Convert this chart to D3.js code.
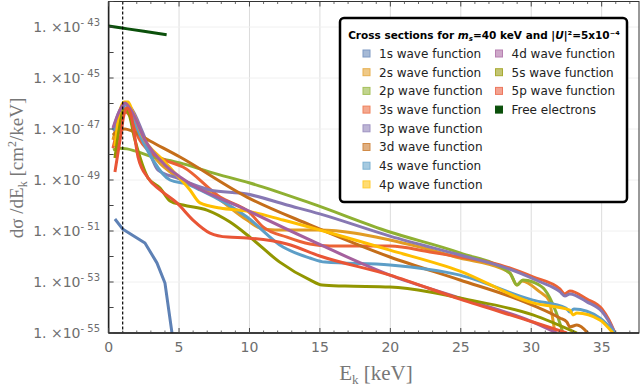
<!DOCTYPE html>
<html>
<head>
<meta charset="utf-8">
<script src="https://cdn.jsdelivr.net/npm/d3@7"></script>
<style>
  body { margin: 0; background: #fff; }
  svg { display: block; }
</style>
</head>
<body>
<svg id="chart" width="640" height="389"></svg>
<script>
// values are [E_k in keV, log10(dσ/dE_k in cm²/keV)]
const wf1s = [[0.45, -50.53], [0.99, -50.92], [2.58, -51.47], [3.43, -52.25], [4.0, -53.04], [4.5, -55.0]];
const wf2s = [[0.31, -47.43], [0.74, -46.57], [1.16, -46.18], [1.59, -46.33], [2.23, -47.24], [3.43, -48.22], [4.85, -48.88], [7.2, -49.51], [9.82, -50.57], [10.74, -50.88], [11.81, -50.96], [14.99, -50.96], [19.97, -51.35], [22.1, -51.63], [24.94, -52.06], [27.78, -52.45], [28.49, -52.65], [28.99, -53.12], [29.34, -52.96], [30.61, -53.39], [31.25, -53.71], [31.54, -54.49], [31.68, -55.0]];
const wf2p = [[0.31, -47.82], [0.81, -47.75], [1.31, -47.78], [1.87, -47.86], [2.94, -48.06], [5.07, -48.33], [7.2, -48.69], [10.03, -49.12], [14.29, -49.9], [19.97, -51.04], [24.94, -51.86], [28.49, -52.65], [28.99, -53.12], [29.41, -52.92], [30.12, -53.0], [30.97, -53.31], [31.33, -53.63], [31.76, -54.18], [32.25, -55.0]];
const wf3s = [[0.31, -47.75], [0.74, -46.84], [1.16, -46.33], [1.52, -46.49], [2.09, -47.31], [2.94, -47.9], [4.0, -48.22], [5.28, -48.49], [7.91, -49.67], [10.03, -50.29], [10.96, -50.84], [12.66, -51.24], [14.29, -51.51], [15.71, -51.59], [19.97, -51.59], [22.8, -51.82], [24.94, -52.02], [27.78, -52.33], [30.12, -52.8], [32.03, -53.27], [32.39, -53.47], [32.74, -53.35], [33.95, -53.67], [35.02, -54.06], [35.52, -54.49], [35.94, -55.0]];
const wf3p = [[0.38, -47.1], [0.74, -46.57], [1.21, -46.06], [1.59, -46.18], [2.44, -47.16], [3.51, -48.61], [4.85, -48.92], [7.19, -49.39], [9.82, -49.55], [12.66, -49.98], [14.99, -50.33], [19.97, -51.2], [24.94, -51.94], [27.78, -52.37], [29.2, -52.65], [30.61, -52.99], [32.03, -53.38], [32.39, -53.55], [32.74, -53.47], [33.95, -53.78], [35.02, -54.16], [35.45, -54.49], [35.94, -55.0]];
const wf3d = [[0.31, -47.24], [0.74, -47.04], [1.16, -47.0], [1.66, -47.08], [2.94, -47.47], [5.07, -48.1], [9.82, -49.67], [14.29, -50.76], [19.97, -52.02], [24.94, -52.92], [29.2, -53.71], [32.03, -54.41], [32.53, -54.57], [32.74, -54.76], [33.24, -54.69], [34.02, -55.0]];
const wf4s = [[0.31, -47.04], [0.74, -46.33], [1.16, -46.02], [1.52, -46.25], [2.23, -47.24], [3.15, -48.22], [4.36, -49.0], [5.56, -49.16], [6.49, -49.39], [9.82, -50.45], [12.38, -51.63], [14.29, -52.06], [15.36, -52.22], [19.97, -52.33], [24.94, -52.73], [30.12, -53.71], [32.46, -54.02], [32.74, -54.18], [33.03, -54.06], [34.87, -54.41], [35.94, -55.0]];
const wf4p = [[0.45, -47.67], [0.74, -46.45], [1.09, -45.94], [1.38, -45.94], [1.66, -46.25], [2.44, -47.31], [3.86, -48.22], [5.78, -49.39], [6.49, -49.9], [7.91, -50.1], [9.82, -50.22], [12.38, -50.57], [14.99, -50.96], [19.97, -51.75], [24.94, -52.57], [30.12, -53.82], [32.74, -54.1], [32.96, -54.29], [33.24, -54.22], [34.87, -54.49], [35.8, -55.0]];
const wf4d = [[0.31, -46.96], [0.74, -46.33], [1.16, -45.98], [1.59, -46.25], [2.58, -47.43], [4.0, -48.41], [5.07, -48.88], [9.82, -50.18], [14.29, -51.35], [19.97, -52.73], [24.94, -53.63], [30.12, -54.57], [31.82, -55.0]];
const wf5s = [[0.45, -48.14], [0.74, -47.04], [1.09, -46.25], [1.38, -46.33], [1.87, -47.43], [2.8, -48.92], [3.65, -49.31], [4.36, -49.82], [5.28, -49.98], [6.98, -50.18], [8.62, -50.65], [10.03, -51.24], [12.15, -52.22], [14.29, -52.92], [15.14, -53.12], [16.78, -53.16], [19.97, -53.2], [22.8, -53.39], [24.94, -53.63], [30.12, -54.29], [33.24, -55.0]];
const wf5p = [[0.45, -48.69], [0.81, -47.43], [1.09, -46.45], [1.31, -46.18], [1.59, -46.45], [2.09, -48.1], [2.8, -48.92], [3.65, -49.39], [4.85, -49.9], [5.99, -50.57], [7.2, -51.08], [8.47, -51.24], [9.82, -51.27], [12.66, -51.51], [14.99, -51.98], [19.97, -52.73], [24.94, -53.67], [30.12, -54.57], [32.53, -55.0]];
const freeElectrons = [[0.0, -42.96], [0.95, -43.04], [2.5, -43.17], [4.12, -43.3]];

const seriesNames = ['1s wave function', '2s wave function', '2p wave function', '3s wave function',
  '3p wave function', '3d wave function', '4s wave function', '4p wave function',
  '4d wave function', '5s wave function', '5p wave function', 'Free electrons'];
const seriesColors = ['#5E81B5', '#E19C24', '#8FB032', '#EB6235', '#8778B3', '#C56E1A',
  '#5D9EC7', '#FFBF00', '#A5609D', '#929600', '#E95536', '#0B500B'];
const seriesData = [wf1s, wf2s, wf2p, wf3s, wf3p, wf3d, wf4s, wf4p, wf4d, wf5s, wf5p, freeElectrons];

const xTicks = [0, 5, 10, 15, 20, 25, 30, 35];
const yExponents = d3.range(-55, -41);          // a tick every decade
const yLabelExponents = [-55, -53, -51, -49, -47, -45, -43];
const thresholdEnergy = 1;                        // dashed line, keV

const svg = d3.select('#chart');
const plot = { left: 108.6, right: 639, top: 1.5, bottom: 333 };

const x = d3.scaleLinear().domain([0, 37.65]).range([plot.left, plot.right]);
const y = d3.scaleLog().domain([1e-55, 1e-42]).range([plot.bottom, plot.top]);

svg.append('defs').append('clipPath').attr('id', 'clip')
  .append('rect')
  .attr('x', plot.left).attr('y', plot.top)
  .attr('width', plot.right - plot.left).attr('height', plot.bottom - plot.top);

// grid
const grid = svg.append('g');
grid.selectAll('.vg').data(xTicks.filter(d => d > 0)).enter().append('line')
  .attr('x1', d => x(d)).attr('x2', d => x(d))
  .attr('y1', plot.top).attr('y2', plot.bottom)
  .attr('stroke', '#dcdcdc').attr('stroke-width', 1);
grid.selectAll('.hg').data(yLabelExponents).enter().append('line')
  .attr('x1', plot.left).attr('x2', plot.right)
  .attr('y1', d => y(Math.pow(10, d))).attr('y2', d => y(Math.pow(10, d)))
  .attr('stroke', '#f0f0f0').attr('stroke-width', 1);

// curves
const smooth = d3.line()
  .x(d => x(d[0]))
  .y(d => y(Math.pow(10, d[1])))
  .curve(d3.curveMonotoneX);
const straight = d3.line()
  .x(d => x(d[0]))
  .y(d => y(Math.pow(10, d[1])));

const curves = svg.append('g').attr('clip-path', 'url(#clip)');
seriesData.forEach((data, i) => {
  curves.append('path')
    .datum(data)
    .attr('fill', 'none')
    .attr('stroke', seriesColors[i])
    .attr('stroke-width', 3)
    .attr('stroke-linejoin', 'round')
    .attr('d', i === 0 ? straight : smooth);
});

// dashed threshold line
svg.append('line')
  .attr('x1', x(thresholdEnergy)).attr('x2', x(thresholdEnergy))
  .attr('y1', plot.top).attr('y2', plot.bottom)
  .attr('stroke', '#000').attr('stroke-width', 1.2)
  .attr('stroke-dasharray', '3,2');

// frame
const frame = svg.append('g');
frame.append('rect')
  .attr('x', plot.left).attr('y', plot.top)
  .attr('width', plot.right - plot.left).attr('height', plot.bottom - plot.top)
  .attr('fill', 'none').attr('stroke', '#333').attr('stroke-width', 1);
frame.append('line')
  .attr('x1', plot.left).attr('x2', plot.left).attr('y1', plot.top).attr('y2', plot.bottom)
  .attr('stroke', '#222').attr('stroke-width', 1.6);
frame.append('line')
  .attr('x1', plot.left).attr('x2', plot.right).attr('y1', plot.bottom).attr('y2', plot.bottom)
  .attr('stroke', '#222').attr('stroke-width', 1.6);

// x ticks (major + minor each keV), bottom and top
const minorX = d3.range(0, 38).filter(d => d % 5 !== 0);
[plot.bottom, plot.top].forEach((yy, k) => {
  const dir = k === 0 ? -1 : 1;
  frame.selectAll(null).data(xTicks).enter().append('line')
    .attr('x1', d => x(d)).attr('x2', d => x(d))
    .attr('y1', yy).attr('y2', yy + dir * 5)
    .attr('stroke', '#444').attr('stroke-width', 1);
  frame.selectAll(null).data(minorX).enter().append('line')
    .attr('x1', d => x(d)).attr('x2', d => x(d))
    .attr('y1', yy).attr('y2', yy + dir * 2.5)
    .attr('stroke', '#444').attr('stroke-width', 0.8);
});
// y ticks every decade
frame.selectAll(null).data(yExponents).enter().append('line')
  .attr('x1', plot.left).attr('x2', plot.left + 5)
  .attr('y1', d => y(Math.pow(10, d))).attr('y2', d => y(Math.pow(10, d)))
  .attr('stroke', '#444').attr('stroke-width', 1);

// x tick labels
svg.append('g').selectAll('text').data(xTicks).enter().append('text')
  .attr('x', d => x(d)).attr('y', 352)
  .attr('text-anchor', 'middle')
  .attr('font-family', 'DejaVu Sans, sans-serif')
  .attr('font-size', 14)
  .attr('fill', '#6e6e6e')
  .text(d => d);

// y tick labels
const yl = svg.append('g').selectAll('text').data(yLabelExponents).enter().append('text')
  .attr('x', 100).attr('y', d => y(Math.pow(10, d)) + 5)
  .attr('text-anchor', 'end')
  .attr('font-family', 'DejaVu Sans, sans-serif')
  .attr('font-size', 14)
  .attr('fill', '#6e6e6e');
yl.append('tspan').text('1. ×10');
yl.append('tspan').attr('dy', -6).attr('font-size', 10).text(d => '- ' + (-d));

// axis titles
svg.append('text')
  .attr('x', 376).attr('y', 380)
  .attr('text-anchor', 'middle')
  .attr('font-family', 'Liberation Serif, serif')
  .attr('font-size', 21)
  .attr('fill', '#777')
  .call(t => {
    t.append('tspan').text('E');
    t.append('tspan').attr('font-size', 13).attr('dy', 4).text('k');
    t.append('tspan').attr('dy', -4).text('  [keV]');
  });

svg.append('text')
  .attr('transform', 'translate(23,168) rotate(-90)')
  .attr('text-anchor', 'middle')
  .attr('font-family', 'Liberation Serif, serif')
  .attr('font-size', 19)
  .attr('fill', '#777')
  .call(t => {
    t.append('tspan').text('dσ /dE');
    t.append('tspan').attr('font-size', 12).attr('dy', 4).text('k');
    t.append('tspan').attr('dy', -4).text(' [cm');
    t.append('tspan').attr('font-size', 12).attr('dy', -7).text('2');
    t.append('tspan').attr('dy', 7).text('/keV]');
  });

// legend
const legend = svg.append('g');
legend.append('rect')
  .attr('x', 340).attr('y', 18)
  .attr('width', 287).attr('height', 184)
  .attr('rx', 4)
  .attr('fill', '#fff').attr('stroke', '#000').attr('stroke-width', 2.5);

legend.append('text')
  .attr('x', 484).attr('y', 39)
  .attr('text-anchor', 'middle')
  .attr('font-family', 'DejaVu Sans, sans-serif')
  .attr('font-weight', 'bold')
  .attr('font-size', 10.5)
  .attr('fill', '#000')
  .call(t => {
    t.append('tspan').text('Cross sections for ');
    t.append('tspan').attr('font-style', 'italic').text('m');
    t.append('tspan').attr('font-size', 7).attr('dy', 2).attr('font-style', 'italic').text('s');
    t.append('tspan').attr('dy', -2).text('=40 keV and |');
    t.append('tspan').attr('font-style', 'italic').text('U');
    t.append('tspan').text('|²=5x10⁻⁴');
  });

const rowY = i => 53.5 + i * 18.7;
seriesNames.forEach((name, i) => {
  const col = i < 8 ? 0 : 1;
  const row = i < 8 ? i : i - 8;
  const sx = col === 0 ? 363 : 495.5;
  const isFree = i === seriesNames.length - 1;
  legend.append('rect')
    .attr('x', sx).attr('y', rowY(row) - 3.5)
    .attr('width', 7).attr('height', 7)
    .attr('fill', isFree ? seriesColors[i] : d3.interpolateRgb(seriesColors[i], '#fff')(0.45))
    .attr('stroke', isFree ? seriesColors[i] : d3.interpolateRgb(seriesColors[i], '#fff')(0.2))
    .attr('stroke-width', 1);
  legend.append('text')
    .attr('x', sx + 16).attr('y', rowY(row) + 4.3)
    .attr('font-family', 'DejaVu Sans, sans-serif')
    .attr('font-size', 12)
    .attr('fill', '#222')
    .text(name);
});
</script>
</body>
</html>
